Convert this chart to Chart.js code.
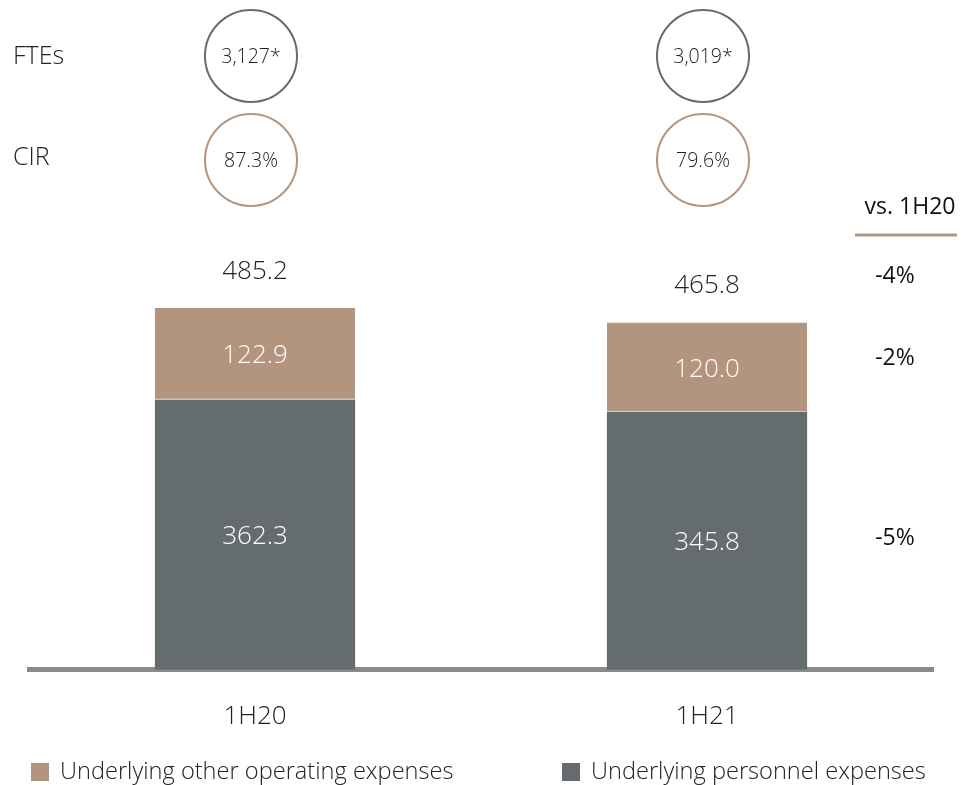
<!DOCTYPE html>
<html>
<head>
<meta charset="utf-8">
<script src="https://cdn.jsdelivr.net/npm/chart.js@4"></script>
<style>
  html, body { margin: 0; padding: 0; background: #fff; }
  #wrap { width: 964px; height: 785px; }
</style>
</head>
<body>
<div id="wrap"><canvas id="costChart"></canvas></div>
<script>
const categories = ['1H20', '1H21'];
const personnel = [362.3, 345.8];
const otherOpex = [122.9, 120.0];
const totals = [485.2, 465.8];
const ftes = ['3,127*', '3,019*'];
const cir = ['87.3%', '79.6%'];
const changes = ['-4%', '-2%', '-5%'];

const GREY = '#656c6e';
const TAN = '#b3957f';
const FONT = '"Open Sans", "Noto Sans", sans-serif';

// labels, circles, change column and legend
const annotations = {
    id: 'annotations',
    afterDatasetsDraw(chart) {
        const ctx = chart.ctx;
        const x = chart.scales.x;
        const y = chart.scales.y;
        ctx.save();
        ctx.textAlign = 'center';
        ctx.textBaseline = 'middle';

        // values inside the bars
        ctx.fillStyle = '#fff';
        ctx.font = '300 26px ' + FONT;
        [0, 1].forEach(d => {
            const meta = chart.getDatasetMeta(d);
            meta.data.forEach((bar, i) => {
                const v = chart.data.datasets[d].data[i];
                ctx.fillText(v.toFixed(1), bar.x, (bar.y + bar.base) / 2 + 2);
            });
        });

        // totals
        ctx.fillStyle = '#222';
        totals.forEach((t, i) => {
            ctx.fillText(t.toFixed(1), x.getPixelForValue(i), y.getPixelForValue(t) - 37);
        });

        // row labels
        ctx.textAlign = 'left';
        ctx.font = '300 25px ' + FONT;
        ctx.fillText('FTEs', 13, 57);
        ctx.fillText('CIR', 13, 158);

        // circles
        ctx.textAlign = 'center';
        ctx.font = '300 19.5px ' + FONT;
        categories.forEach((c, i) => {
            const cx = x.getPixelForValue(i) - 4;
            ctx.lineWidth = 2;
            ctx.strokeStyle = GREY;
            ctx.beginPath();
            ctx.arc(cx, 56, 46, 0, Math.PI * 2);
            ctx.stroke();
            ctx.fillStyle = '#222';
            ctx.fillText(ftes[i], cx, 57);

            ctx.strokeStyle = TAN;
            ctx.beginPath();
            ctx.arc(cx, 160, 46, 0, Math.PI * 2);
            ctx.stroke();
            ctx.fillText(cir[i], cx, 161);
        });

        // change vs 1H20
        ctx.fillStyle = '#111';
        ctx.font = '500 23px ' + FONT;
        ctx.fillText('vs. 1H20', 910, 207);
        ctx.strokeStyle = TAN;
        ctx.lineWidth = 3;
        ctx.beginPath();
        ctx.moveTo(855, 235);
        ctx.lineTo(957, 235);
        ctx.stroke();

        const tanMid = (y.getPixelForValue(personnel[0] + otherOpex[0] / 2) +
                        y.getPixelForValue(personnel[1] + otherOpex[1] / 2)) / 2;
        const greyMid = y.getPixelForValue(personnel[1] / 2);
        ctx.fillText(changes[0], 895, y.getPixelForValue(totals[1]) - 46);
        ctx.fillText(changes[1], 895, tanMid - 2);
        ctx.fillText(changes[2], 895, greyMid - 2);

        // legend, top segment first
        ctx.textAlign = 'left';
        ctx.font = '300 23.6px ' + FONT;
        const legendX = [31, 562];
        chart.data.datasets.slice().reverse().forEach((ds, i) => {
            ctx.fillStyle = ds.backgroundColor;
            ctx.fillRect(legendX[i], 763, 18, 18);
            ctx.fillStyle = '#222';
            ctx.fillText(ds.label, legendX[i] + 29, 772);
        });
        ctx.restore();
    }
};

const ctx = document.getElementById('costChart').getContext('2d');

const costChart = new Chart(ctx, {
    type: 'bar',
    data: {
        labels: categories,
        datasets: [
            {
                label: 'Underlying personnel expenses',
                data: personnel,
                backgroundColor: GREY,
                borderWidth: 0
            },
            {
                label: 'Underlying other operating expenses',
                data: otherOpex,
                backgroundColor: TAN,
                borderColor: '#d9cbbf',
                borderWidth: { top: 0, bottom: 1, left: 0, right: 0 },
                borderSkipped: false
            }
        ]
    },
    options: {
        responsive: true,
        maintainAspectRatio: false,
        animation: false,
        layout: {
            padding: { top: 230, left: 29, right: 31, bottom: 30 }
        },
        datasets: {
            bar: {
                categoryPercentage: 1,
                barPercentage: 0.443
            }
        },
        scales: {
            x: {
                stacked: true,
                grid: { display: false },
                border: { display: true, color: '#8a8a8a', width: 5 },
                ticks: {
                    color: '#222',
                    padding: 23,
                    font: { family: FONT, size: 26, weight: 300 }
                }
            },
            y: {
                stacked: true,
                display: false,
                min: 0,
                max: 590
            }
        },
        plugins: {
            legend: { display: false },
            tooltip: { enabled: false }
        }
    },
    plugins: [annotations]
});
</script>
</body>
</html>
